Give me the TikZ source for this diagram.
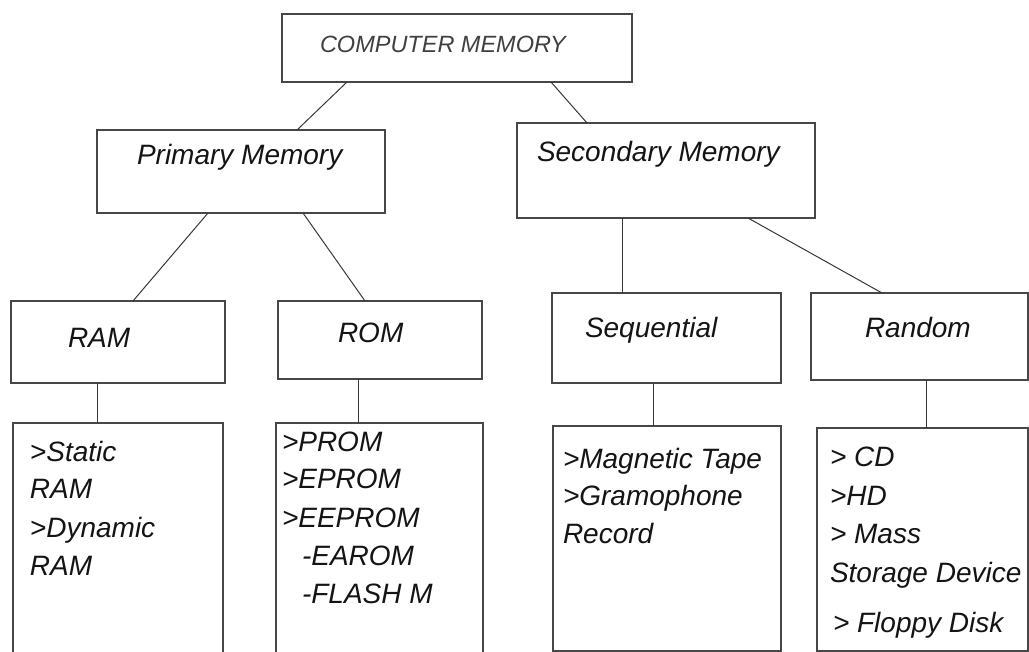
\documentclass[tikz,border=0pt]{standalone}
\usepackage{fontspec}
\setmainfont{Liberation Sans}
\begin{document}
\begin{tikzpicture}[x=1pt,y=-1pt,
  box/.style={draw=black!72,line width=1.4pt,rectangle,inner sep=0pt,outer sep=0pt},
  conn/.style={draw=black!78,line width=1pt},
  txt/.style={anchor=base west,inner sep=0pt,outer sep=0pt,text=black!92,font=\fontsize{28}{32}\selectfont\itshape},
  toptxt/.style={anchor=base west,inner sep=0pt,outer sep=0pt,text=black!75,font=\fontsize{23.5}{28}\selectfont\itshape}]
\useasboundingbox (0,0) rectangle (1029,652);
\fill[white] (0,0) rectangle (1029,652);
% boxes
\node[box,minimum width=350pt,minimum height=68pt] (top) at (457,48) {};
\node[box,minimum width=288pt,minimum height=83pt] (prim) at (241,171.5) {};
\node[box,minimum width=298pt,minimum height=95pt] (sec) at (666,170.5) {};
\node[box,minimum width=214pt,minimum height=82pt] (ram) at (118,342) {};
\node[box,minimum width=204pt,minimum height=78pt] (rom) at (380,340) {};
\node[box,minimum width=229pt,minimum height=90pt] (seq) at (666.5,338) {};
\node[box,minimum width=217pt,minimum height=87pt] (rnd) at (919.5,336.5) {};
\node[box,minimum width=210pt,minimum height=242pt] (ramlist) at (118,544) {};
\node[box,minimum width=207pt,minimum height=242pt] (romlist) at (379.5,544) {};
\node[box,minimum width=228pt,minimum height=225pt] (seqlist) at (667,538.5) {};
\node[box,minimum width=211pt,minimum height=223pt] (rndlist) at (922.5,539.5) {};
% connectors
\draw[conn] ([xshift=65pt]top.south west) -- ([xshift=200pt]prim.north west);
\draw[conn] ([xshift=269pt]top.south west) -- ([xshift=70pt]sec.north west);
\draw[conn] ([xshift=111pt]prim.south west) -- ([xshift=122pt]ram.north west);
\draw[conn] ([xshift=206pt]prim.south west) -- ([xshift=87pt]rom.north west);
\draw[conn] ([xshift=86pt]ram.south west) -- ([xshift=84pt]ramlist.north west);
\draw[conn] ([xshift=80pt]rom.south west) -- ([xshift=82pt]romlist.north west);
\draw[conn] ([xshift=105pt]sec.south west) -- ([xshift=70pt]seq.north west);
\draw[conn] ([xshift=231pt]sec.south west) -- ([xshift=71pt]rnd.north west);
\draw[conn] ([xshift=101pt]seq.south west) -- ([xshift=100pt]seqlist.north west);
\draw[conn] ([xshift=115pt]rnd.south west) -- ([xshift=109pt]rndlist.north west);
% titles
\node[toptxt] (ttop) at (320,53) {COMPUTER MEMORY};
\node[txt] (tprim) at (137,165) {Primary Memory};
\node[txt] (tsec) at (537,162) {Secondary Memory};
\node[txt] (tram) at (68,348) {RAM};
\node[txt] (trom) at (338,343) {ROM};
\node[txt] (tseq) at (585,338) {Sequential};
\node[txt] (trnd) at (865,338) {Random};
% RAM list
\node[txt] (ra1) at (30,461) {>Static};
\node[txt] (ra2) at (30,498) {RAM};
\node[txt] (ra3) at (30,537) {>Dynamic};
\node[txt] (ra4) at (30,575) {RAM};
% ROM list
\node[txt] (ro1) at (282,452) {>PROM};
\node[txt] (ro2) at (282,489) {>EPROM};
\node[txt] (ro3) at (282,527) {>EEPROM};
\node[txt] (ro4) at (302,565) {-EAROM};
\node[txt] (ro5) at (302,603) {-FLASH M};
% Sequential list
\node[txt] (sq1) at (563,468) {>Magnetic Tape};
\node[txt] (sq2) at (563,505) {>Gramophone};
\node[txt] (sq3) at (563,543) {Record};
% Random list
\node[txt] (rn1) at (830,467) {> CD};
\node[txt] (rn2) at (830,505) {>HD};
\node[txt] (rn3) at (830,543) {> Mass};
\node[txt] (rn4) at (830,582) {Storage Device};
\node[txt] (rn5) at (833,632) {> Floppy Disk};
\end{tikzpicture}
\end{document}
